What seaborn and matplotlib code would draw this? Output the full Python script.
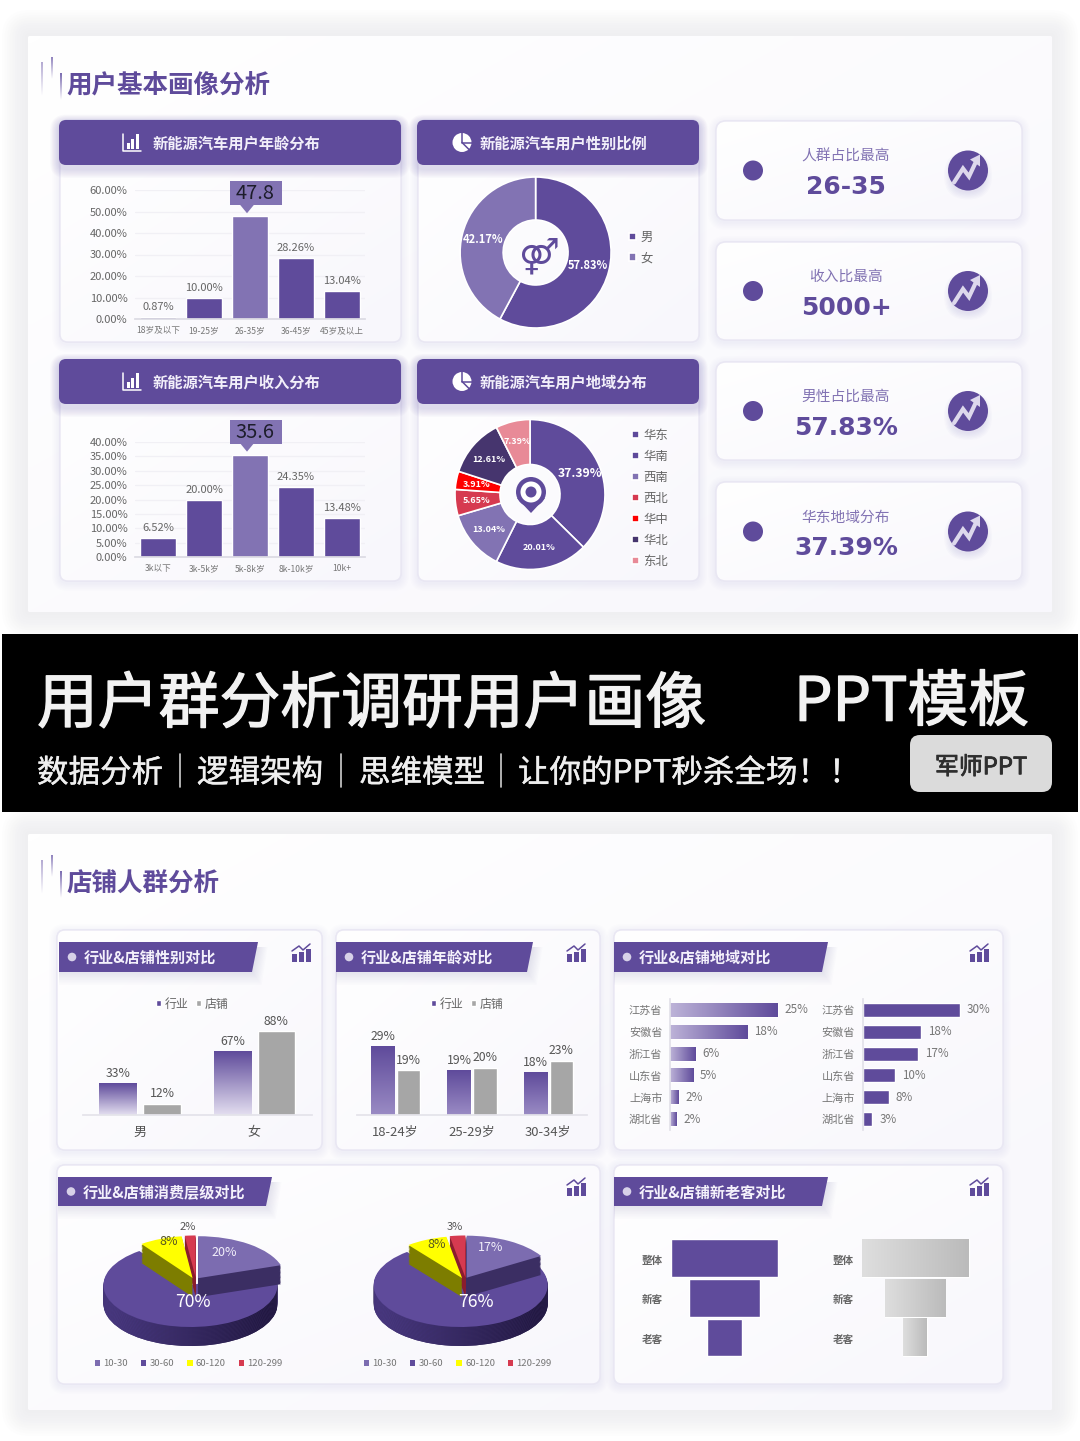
import itertools

import matplotlib

matplotlib.use("Agg")
import matplotlib.patheffects as pe
import matplotlib.pyplot as plt
import numpy as np
import pandas as pd
import seaborn as sns
from matplotlib.colors import LinearSegmentedColormap
from matplotlib.patches import Circle, FancyBboxPatch, Polygon, Rectangle
from matplotlib.transforms import ScaledTranslation

W, H = 1080, 1441
PURPLE = "#5f4b9b"
LILAC = "#8273b3"
GREY_BAR = "#a6a6a6"
TXT = "#666666"

age_cats = ["18岁及以下", "19-25岁", "26-35岁", "36-45岁", "45岁及以上"]
age_vals = [0.87, 10.0, 47.8, 28.26, 13.04]
age_labels = ["0.87%", "10.00%", "", "28.26%", "13.04%"]
age_ticks = [0, 10, 20, 30, 40, 50, 60]

income_cats = ["3k以下", "3k-5k岁", "5k-8k岁", "8k-10k岁", "10k+"]
income_vals = [6.52, 20.0, 35.6, 24.35, 13.48]
income_labels = ["6.52%", "20.00%", "", "24.35%", "13.48%"]
income_ticks = [0, 5, 10, 15, 20, 25, 30, 35, 40]

gender_cats = ["男", "女"]
gender_vals = [57.83, 42.17]

region_cats = ["华东", "华南", "西南", "西北", "华中", "华北", "东北"]
region_vals = [37.39, 20.01, 13.04, 5.65, 3.91, 12.61, 7.39]
region_colors = [PURPLE, PURPLE, LILAC, "#d63a50", "#fe0000", "#46356e", "#e88a97"]

kpi_titles = ["人群占比最高", "收入比最高", "男性占比最高", "华东地域分布"]
kpi_values = ["26-35", "5000+", "57.83%", "37.39%"]

series_names = ["行业", "店铺"]
shop_gender_cats = ["男", "女"]
shop_gender_industry = [33, 67]
shop_gender_store = [12, 88]
shop_age_cats = ["18-24岁", "25-29岁", "30-34岁"]
shop_age_industry = [29, 19, 18]
shop_age_store = [19, 20, 23]

province_cats = ["江苏省", "安徽省", "浙江省", "山东省", "上海市", "湖北省"]
province_industry = [25, 18, 6, 5.4, 2, 1.6]
province_store = [30, 18, 17, 10, 8, 3]

spend_cats = ["10-30", "30-60", "60-120", "120-299"]
spend_industry = [20, 70, 8, 2]
spend_store = [17, 76, 8, 3]
spend_colors = ["#7c6cb0", PURPLE, "#ffff00", "#d63a50"]
spend_sides = ["#3b2e63", "#3b2e63", "#7d7d00", "#8a1d2e"]

funnel_cats = ["整体", "新客", "老客"]
funnel_industry = [100, 67, 33]
funnel_store = [100, 57, 22]

sns.set_theme(style="white")
plt.rcParams["font.family"] = ["Noto Sans CJK SC", "DejaVu Sans"]
plt.rcParams["axes.unicode_minus"] = False

fig = plt.figure(figsize=(W / 100, H / 100), dpi=100, facecolor="white")


def axes_px(x0, y0, x1, y1, z=1):
    ax = fig.add_axes([x0 / W, 1 - y1 / H, (x1 - x0) / W, (y1 - y0) / H], zorder=z)
    ax.patch.set_alpha(0)
    return ax


bg = axes_px(0, 0, W, H, 0)
bg.set_xlim(0, W)
bg.set_ylim(H, 0)
bg.axis("off")
bg.set_autoscale_on(False)
top = axes_px(0, 0, W, H, 4)
top.set_xlim(0, W)
top.set_ylim(H, 0)
top.axis("off")
top.set_autoscale_on(False)
Z = itertools.count(1)


def gradient(ax, c0, c1, extent, axis="y", clip=None, z=1.5):
    cmap = LinearSegmentedColormap.from_list("g", [c0, c1])
    t = np.linspace(0, 1, 128)
    if axis == "y":
        arr = t[:, None]
    elif axis == "x":
        arr = t[None, :]
    else:
        arr = (t[:, None] + t[None, :]) / 2
    was = ax.get_autoscale_on()
    ax.set_autoscale_on(False)
    im = ax.imshow(arr, cmap=cmap, vmin=0, vmax=1, extent=extent, origin="lower",
                   aspect="auto", zorder=z, interpolation="bilinear")
    ax.set_autoscale_on(was)
    if clip is not None:
        im.set_clip_path(clip)
    return im


def round_box(x0, y0, x1, y1, r, fc, ec="none", lw=0.0, alpha=None):
    p = FancyBboxPatch((x0, y0), x1 - x0, y1 - y0, boxstyle=f"round,pad=0,rounding_size={r}",
                       fc=fc, ec=ec, lw=lw, alpha=alpha, zorder=next(Z))
    bg.add_patch(p)
    return p


def shadow(x0, y0, x1, y1, r, color, alpha, spread, dy=0, n=10):
    for k in range(n, 0, -1):
        s = spread * k / n
        round_box(x0 - s, y0 - s + dy, x1 + s, y1 + s + dy, r + s, color, alpha=alpha)


def big_card(x0, y0, x1, y1):
    shadow(x0, y0, x1, y1, 2, "#dcdce0", 0.045, 26)
    p = round_box(x0, y0, x1, y1, 2, "white")
    gradient(bg, "#ffffff", "#f8f7fc", (x0, x1, y0, y1), "xy", p, next(Z))


def card(x0, y0, x1, y1, r=8):
    shadow(x0, y0, x1, y1, r, "#b9b2d8", 0.018, 8, 2, 6)
    p = round_box(x0, y0, x1, y1, r, "white", "#e9e7f3", 1.0)
    gradient(bg, "#ffffff", "#f8f7fc", (x0, x1, y0, y1), "xy", p, next(Z))
    bg.add_patch(FancyBboxPatch((x0, y0), x1 - x0, y1 - y0, boxstyle=f"round,pad=0,rounding_size={r}",
                                fc="none", ec="#e9e7f3", lw=1.0, zorder=next(Z)))


def text(x, y, s, size, color=TXT, weight="normal", ha="center", stroke=0, family=None):
    # the CJK face sits a little high, hence the nudge
    t = top.text(x, y + size * 0.1, s, fontsize=size, color=color, fontweight=weight, ha=ha, va="center")
    if family:
        t.set_family(family)
    if stroke:
        t.set_path_effects([pe.withStroke(linewidth=stroke, foreground=color)])
    return t


def section_title(y, s):
    for x, y0, y1, c in [(41, y - 22, y + 12, "#b3a9d2"), (51, y - 27, y - 5, "#8f82bd"), (60, y - 11, y + 16, "#7a6bb0")]:
        gradient(bg, "#ffffff", c, (x, x + 1.6, y1, y0), "y", None, next(Z))
    text(66.5, y - 1, s, 18.4, PURPLE, "bold", "left")


def bar_icon(cx, cy):
    top.plot([cx - 9, cx - 9, cx + 9], [cy - 9, cy + 8, cy + 8], color="white", lw=1.1)
    for dx, h in [(-5, 6), (-1, 10), (4, 15)]:
        top.add_patch(Rectangle((cx + dx, cy + 6 - h), 3, h, fc="white", ec="none"))


def pie_icon(cx, cy):
    top.add_patch(Circle((cx, cy), 9.5, fc="white", ec="none"))
    top.plot([cx, cx, cx + 9.5], [cy - 9.5, cy, cy], color=PURPLE, lw=1.1)
    top.plot([cx, cx + 7], [cy, cy + 7], color=PURPLE, lw=1.1)


def header(x0, x1, y0, y1, s, tx, icon, ix):
    shadow(x0, y0, x1, y1, 7, "#8b7fc0", 0.035, 9, 4, 8)
    round_box(x0, y0, x1, y1, 7, PURPLE)
    text(tx, (y0 + y1) / 2 - 0.5, s, 11, "#f2effa", "bold", "left")
    icon(ix, (y0 + y1) / 2)


def trend_icon(cx, cy):
    shadow(cx - 16, cy - 16, cx + 16, cy + 16, 16, "#8b7fc0", 0.03, 8, 5, 6)
    top.add_patch(Circle((cx, cy), 20, fc=PURPLE, ec="none"))
    top.plot([cx - 14, cx - 5, cx + 1, cx + 9], [cy + 12, cy - 2, cy + 6, cy - 11],
             color="#ddd8ec", lw=3, solid_joinstyle="miter")
    top.add_patch(Polygon([(cx + 12, cy - 16), (cx + 2, cy - 11), (cx + 12, cy - 4)], fc="#ddd8ec", ec="none"))


def ribbon(x0, x1, y0, y1, s, size=10.9):
    dx = 6
    for k in range(8, 0, -1):
        bg.add_patch(Polygon([(x0, y0 + 5), (x1 + k * 1.2, y0 + 5), (x1 - dx + k * 1.2, y1 + k * 1.6), (x0, y1 + k * 1.6)],
                             fc="#8b7fc0", ec="none", alpha=0.025, zorder=next(Z)))
    bg.add_patch(Polygon([(x0, y0), (x1, y0), (x1 - dx, y1), (x0, y1)], fc=PURPLE, ec="none", zorder=next(Z)))
    cy = (y0 + y1) / 2
    top.add_patch(Circle((x0 + 13, cy), 4.3, fc="#d7d1e8", ec="none"))
    text(x0 + 25, cy, s, size, "#f4f1fb", "bold", "left")


def corner_icon(cx, cy):
    for dx, h in [(-9, 8), (-2, 10), (5, 13)]:
        top.add_patch(Rectangle((cx + dx, cy + 7 - h), 5, h, fc=PURPLE, ec="none"))
    top.plot([cx - 9, cx - 2, cx + 2, cx + 9], [cy - 4, cy - 9, cy - 5, cy - 11], color=PURPLE, lw=1.1)


def legend(handles, labels, x, y, size, **kw):
    opts = dict(loc="center left", bbox_to_anchor=(x / W, 1 - y / H), frameon=False, borderpad=0,
                borderaxespad=0, handlelength=0.55, handleheight=0.55, handletextpad=0.35,
                labelcolor=TXT, prop={"size": size})
    opts.update(kw)
    return fig.legend(handles, labels, **opts)


def main_bars(box, cats, vals, labels, ticks, callout, cx_off):
    ax = axes_px(*box)
    sns.barplot(x=cats, y=vals, hue=cats, palette=[PURPLE, PURPLE, LILAC, PURPLE, PURPLE],
                width=0.78, legend=False, errorbar=None, saturation=1, ax=ax)
    ax.set_xlim(-0.5, 4.5)
    ax.set_ylim(ticks[0], ticks[-1])
    ax.set_yticks(ticks)
    ax.set_yticklabels([f"{t:.2f}%" for t in ticks])
    ax.tick_params(axis="y", length=0, labelsize=8, labelcolor=TXT, pad=5.5)
    ax.tick_params(axis="x", length=0, labelsize=6.2, labelcolor="#777777", pad=5)
    ax.set_xlabel("")
    ax.set_ylabel("")
    ax.set_axisbelow(True)
    ax.grid(axis="y", color="#f1f0f5", lw=0.9)
    ax.grid(axis="x", visible=False)
    sns.despine(ax=ax, left=True)
    ax.spines["bottom"].set_color("#dcdbe3")
    for cont, lab in zip(ax.containers, labels):
        ax.bar_label(cont, labels=[lab], fontsize=8, color=TXT, padding=3.5)
    # value box above the highlighted bar
    i = int(np.argmax(vals))
    px, py = top.transData.inverted().transform(ax.transData.transform((i, vals[i])))
    top.add_patch(Rectangle((px - 20, py - 35), 52, 24, fc=LILAC, ec="none"))
    top.add_patch(Polygon([(px - 10, py - 11.5), (px + 4, py - 11.5), (px - 3, py - 3)], fc=LILAC, ec="none"))
    text(px + cx_off, py - 24, callout, 14.4, "#1d1d2b")
    return ax


def donut(cx, cy, r, hole, vals, colors, sizes):
    k = 1.08
    ax = axes_px(cx - r * k, cy - r * k, cx + r * k, cy + r * k)
    wedges, _, autos = ax.pie(vals, colors=colors, startangle=90, counterclock=False, radius=1,
                              wedgeprops=dict(width=1 - hole, edgecolor="white", linewidth=1.2),
                              autopct="%.2f%%", pctdistance=0.72,
                              textprops=dict(color="white", fontweight="bold"))
    ax.set_xlim(-k, k)
    ax.set_ylim(-k, k)
    for a, s in zip(autos, sizes):
        a.set_fontsize(s)
    return wedges


def grouped(box, cats, industry, store, ylim, width, gap, c_low, leg_x):
    df = pd.DataFrame({"cat": cats * 2, "val": industry + store,
                       "series": [series_names[0]] * len(cats) + [series_names[1]] * len(cats)})
    ax = axes_px(*box)
    sns.barplot(data=df, x="cat", y="val", hue="series", palette=[PURPLE, GREY_BAR], width=width,
                gap=gap, legend=False, errorbar=None, saturation=1, ax=ax)
    ax.set_ylim(0, ylim)
    ax.set_xlim(-0.5, len(cats) - 0.5)
    ax.set_xlabel("")
    ax.set_ylabel("")
    ax.set_yticks([])
    ax.tick_params(axis="x", length=0, labelsize=9.4, labelcolor="#555555", pad=8)
    sns.despine(ax=ax, left=True)
    ax.spines["bottom"].set_color("#e4e3ea")
    for cont in ax.containers:
        ax.bar_label(cont, fmt="%d%%", fontsize=8.8, color="#555555", padding=2.5)
    for b in ax.containers[0]:
        bb = b.get_bbox()
        gradient(ax, c_low, PURPLE, (bb.x0, bb.x1, bb.y0, bb.y1))
    legend([c[0] for c in ax.containers], series_names, leg_x, 1004, 8.6, columnspacing=0.6, ncol=2,
           handlelength=0.45, handleheight=0.45, handletextpad=0.3)
    return ax


def province_bars(x0, xmax, px_per, vals, low):
    ax = axes_px(x0, 999, x0 + xmax * px_per, 1130)
    sns.barplot(x=vals, y=province_cats, orient="h", color=PURPLE, width=0.64, errorbar=None, saturation=1, ax=ax)
    ax.set_xlim(0, xmax)
    ax.set_xticks([])
    ax.set_xlabel("")
    ax.set_ylabel("")
    ax.tick_params(axis="y", length=0, labelsize=8, labelcolor="#777777", pad=5.5)
    sns.despine(ax=ax, bottom=True)
    ax.spines["left"].set_color("#e2e1e9")
    ax.bar_label(ax.containers[0], fmt="%.0f%%", fontsize=8.4, color="#777777", padding=5)
    if low is not None:
        for b in ax.containers[0]:
            bb = b.get_bbox()
            gradient(ax, low, PURPLE, (bb.x0, bb.x1, bb.y0, bb.y1), "x")


def pie3d(cx, cy, vals):
    rx, ry, dep = 87, 42, 19 / 42
    xk, y_up, y_dn = 1.4, 1.6, 1.9
    ax = axes_px(cx - xk * rx, cy - y_up * ry, cx + xk * rx, cy + y_dn * ry)
    main = int(np.argmax(vals))
    layers = np.linspace(dep, 0, 16)
    for k, dz in enumerate(layers):
        cols = spend_colors if dz == 0 else spend_sides
        wedges, _ = ax.pie(vals, colors=cols, startangle=90, counterclock=False, center=(0, -dz),
                           explode=[0.2, 0, 0.18, 0.18], radius=1, wedgeprops=dict(edgecolor="none", linewidth=0))
        for i, w in enumerate(wedges):
            w.set_zorder((2 if i != main else 1) + k * 0.01)
        # small slices sit right of where the explode alone puts them
        for i, shift in [(0, -0.03), (2, 0.09), (3, 0.07)]:
            x, y = wedges[i].center
            wedges[i].set_center((x + shift, y))
        if dz != 0:
            gradient(ax, "#4c3b86", "#1f163d", (-1, 1, -2, 2), "x", wedges[main], 1 + k * 0.01 + 0.001)
    ax.set_aspect("auto")
    ax.set_xlim(-xk, xk)
    ax.set_ylim(-y_dn, y_up)
    ax.axis("off")
    return wedges


# page blocks
big_card(28, 36, 1052, 612)
big_card(28, 834, 1052, 1410)
section_title(84, "用户基本画像分析")
section_title(882, "店铺人群分析")

# banner
bg.add_patch(Rectangle((2, 634), 1076, 178, fc="black", ec="none", zorder=next(Z)))
text(37, 701, "用户群分析调研用户画像", 43.8, "#f2f2f2", "normal", "left", stroke=1.0)
text(794, 699, "PPT模板", 43.8, "#f2f2f2", "normal", "left", stroke=1.0)
for x, s in [(37, "数据分析"), (197, "逻辑架构"), (359, "思维模型"), (518, "让你的PPT秒杀全场！！")]:
    text(x, 771, s, 22.7, "#efefef", "normal", "left", stroke=0.3)
for x in [180, 341, 501]:
    top.plot([x, x], [754, 787], color="#cfcfcf", lw=1.2)
round_box(910, 735, 1052, 792, 10, "#dbdbdb")
text(981, 766, "军师PPT", 17.2, "#2e2e2e", "normal", stroke=0.6)

# first block: cards and headers
card(60, 120, 401, 342)
card(418, 120, 699, 342)
card(60, 360, 401, 581)
card(418, 360, 699, 581)
header(59, 401, 120, 165, "新能源汽车用户年龄分布", 153, bar_icon, 132)
header(417, 699, 120, 165, "新能源汽车用户性别比例", 480, pie_icon, 462)
header(59, 401, 359, 404, "新能源汽车用户收入分布", 153, bar_icon, 132)
header(417, 699, 359, 404, "新能源汽车用户地域分布", 480, pie_icon, 462)

main_bars((135, 190, 365, 319), age_cats, age_vals, age_labels, age_ticks, "47.8", 5)
main_bars((135, 442, 365, 557), income_cats, income_vals, income_labels, income_ticks, "35.6", 5)

w = donut(535.6, 252.5, 75.5, 0.43, gender_vals, [PURPLE, LILAC], [8, 8])
legend(w, gender_cats, 629, 247.5, 8.9, labelspacing=0.6)
text(538, 254, "⚤", 25, PURPLE, "bold", family="DejaVu Sans")

w = donut(530, 494.5, 75, 0.40, region_vals, region_colors, [8.8, 6.5, 6.5, 6.5, 6.5, 6.5, 6.5])
legend(w, region_cats, 632, 498.5, 8.9, labelspacing=0.65)
top.add_patch(Circle((531, 492), 15, fc=PURPLE, ec="none"))
top.add_patch(Polygon([(517, 498), (545, 498), (531, 513)], fc=PURPLE, ec="none"))
top.add_patch(Circle((531, 492), 10.5, fc="white", ec="none"))
top.add_patch(Circle((531, 492), 5.5, fc=PURPLE, ec="none"))

# right column
kpi_rows = [(121, 220), (242, 340), (362, 460), (482, 581)]
for (y0, y1), title, val in zip(kpi_rows, kpi_titles, kpi_values):
    card(716, y0, 1022, y1, 10)
    cy = (y0 + y1) / 2
    top.add_patch(Circle((753, cy), 10, fc=PURPLE, ec="none"))
    text(846, cy - 15, title, 10.6, LILAC)
    text(846, cy + 15, val, 18, PURPLE, "bold", family="DejaVu Sans")
    trend_icon(968, cy)

# second block
card(57, 930, 322, 1150)
card(336, 930, 600, 1150)
card(614, 930, 1003, 1150)
card(57, 1165, 600, 1384)
card(614, 1165, 1003, 1384)
ribbon(59, 258, 942, 972, "行业&店铺性别对比")
ribbon(336, 533, 942, 972, "行业&店铺年龄对比")
ribbon(614, 828, 942, 972, "行业&店铺地域对比")
ribbon(58, 272, 1177, 1206, "行业&店铺消费层级对比")
ribbon(614, 828, 1177, 1206, "行业&店铺新老客对比")
for cx, cy in [(301, 955), (576, 955), (979, 955), (576, 1189), (979, 1189)]:
    corner_icon(cx, cy)

grouped((83, 1020, 311.5, 1115), shop_gender_cats, shop_gender_industry, shop_gender_store, 100, 0.77, 0.15,
        "#e3def0", 156)
grouped((357.3, 1020, 586.5, 1115), shop_age_cats, shop_age_industry, shop_age_store, 40.3, 0.68, 0.1,
        "#9a8bc4", 431)

province_bars(670, 30, 4.3, province_industry, "#bdb3d8")
province_bars(862.5, 36, 3.25, province_store, None)

w = pie3d(190.5, 1285, spend_industry)
legend(w, spend_cats, 95, 1364, 6.9, ncol=4, columnspacing=1.35, labelcolor="#777777")
w = pie3d(460.7, 1285, spend_store)
legend(w, spend_cats, 364, 1364, 6.9, ncol=4, columnspacing=1.35, labelcolor="#777777")
for x, y, s, size, c in [(193, 1301, "70%", 12.6, "white"), (224, 1252, "20%", 9, "#f2effa"),
                         (169, 1241, "8%", 9, "#555522"), (188, 1226, "2%", 8, "#555555"),
                         (476, 1301, "76%", 12.6, "white"), (491, 1247, "17%", 9, "#f2effa"),
                         (437, 1244, "8%", 9, "#555522"), (455, 1226, "3%", 8, "#555555")]:
    text(x, y, s, size, c)

# funnels
for x_mid, vals, low, high in [(724.5, funnel_industry, PURPLE, PURPLE), (915, funnel_store, "#dedede", "#bbbbbb")]:
    half = 55 * 1.07
    ax = axes_px(x_mid - half, 1238.5, x_mid + half, 1357.3)
    sns.barplot(x=vals, y=funnel_cats, orient="h", color=low, width=0.955, errorbar=None, saturation=1, ax=ax)
    ax.set_xlim(-55, 55)
    for b, v in zip(ax.containers[0], vals):
        b.set_x(-v / 2)
        bb = b.get_bbox()
        if low != high:
            gradient(ax, low, high, (bb.x0, bb.x1, bb.y0, bb.y1), "x")
    ax.set_xticks([])
    ax.set_xlabel("")
    ax.set_ylabel("")
    ax.tick_params(axis="y", length=0, labelsize=7.6, labelcolor="#666666", pad=2)
    for lab in ax.get_yticklabels():
        lab.set_fontweight("bold")
        lab.set_transform(lab.get_transform() + ScaledTranslation(0, -1.5 / 100, fig.dpi_scale_trans))
    sns.despine(ax=ax, left=True, bottom=True)

fig.savefig("out.png", dpi=100, facecolor="white")
